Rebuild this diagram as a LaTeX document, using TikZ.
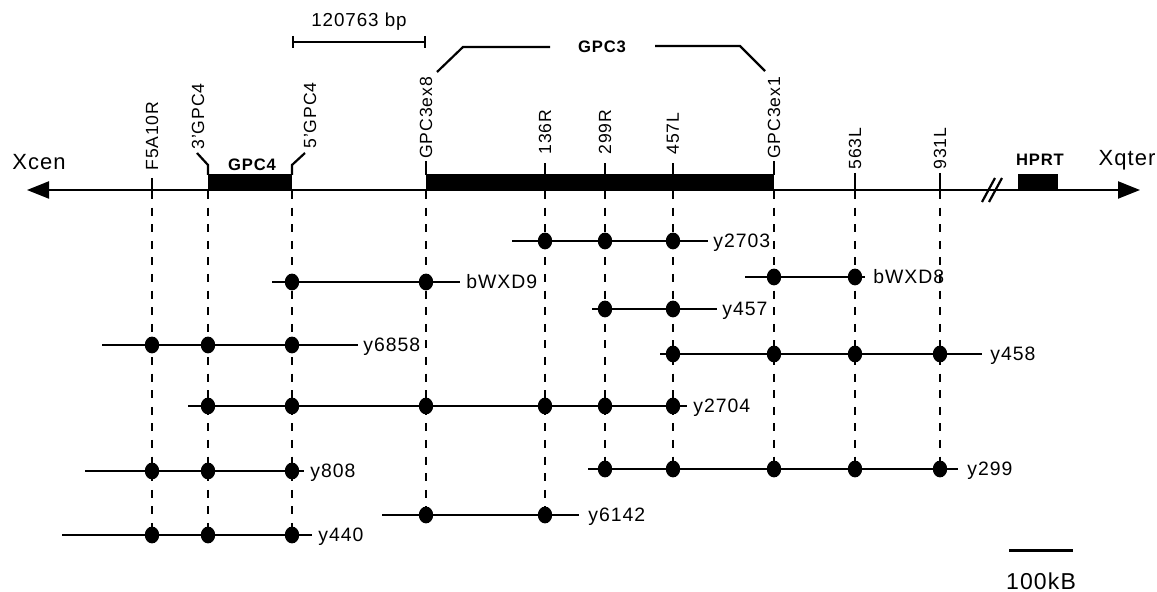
\documentclass[tikz,border=0pt]{standalone}
\usepackage{fontspec}
\setmainfont[LetterSpace=5]{Liberation Sans}
\usetikzlibrary{shapes.geometric,arrows.meta}
\newcommand{\clonerow}[6]{%
  \coordinate (#1-s) at (#3,#2);
  \coordinate (#1-e) at (#4,#2);
  \draw[clone] (#1-s) -- (#1-e);
  \foreach \d in {#6} { \node[dot] (#1-\d) at (\d,#2) {}; }
  \node[clonelab] (#1-lab) at (#5,{#2+6.5}) {#1};
}
\begin{document}
\begin{tikzpicture}[x=0.5pt,y=-0.5pt]
\tikzset{
 axisline/.style={line width=1.1pt},
 clone/.style={line width=1.1pt},
 guide/.style={line width=1.4pt, dash pattern=on 4pt off 4.3pt},
 dot/.style={ellipse, fill=black, inner sep=0, minimum width=7.2pt, minimum height=8.4pt},
 marklab/.style={rotate=90, anchor=west, inner sep=0, font=\fontsize{8.8}{10}\selectfont},
 clonelab/.style={anchor=base west, inner sep=0, font=\fontsize{9.7}{11}\selectfont},
 genelab/.style={inner sep=0, anchor=base, font=\fontsize{8.3}{9.6}\selectfont\bfseries},
 genebox/.style={fill=black, draw=none, inner sep=0, anchor=south west},
 tick/.style={line width=1.1pt},
 bigtxt/.style={inner sep=0, anchor=base, font=\fontsize{11}{12}\selectfont},
}
\useasboundingbox (0,0) rectangle (1157,592);

% marker positions on the axis
\foreach \n/\x in {f5/152, g4a/208, g4b/292, ex8/426, r136/545, r299/605, l457/673, ex1/774, l563/855, l931/940}
  \coordinate (\n) at (\x,190);

% dashed guide lines
\foreach \x/\yb in {152/535, 208/535, 292/535, 426/515, 545/515, 605/469, 673/469, 774/469, 855/469, 940/469}
  \draw[guide] (\x,191) -- (\x,\yb);

% axis
\coordinate (cen) at (27,190);
\coordinate (qter) at (1140,190);
\draw[axisline, {Triangle[length=11pt,width=8.5pt]}-{Triangle[length=11pt,width=8.5pt]}] (cen) -- (qter);

% genes
\node[genebox, minimum width=42pt, minimum height=8.5pt] (gpc4) at (208,191) {};
\node[genebox, minimum width=174pt, minimum height=8pt] (gpc3) at (426,190.5) {};
\node[genebox, minimum width=20pt, minimum height=8pt] (hprt) at (1018,190) {};
\node[genelab] at (252,171) {GPC4};
\node[genelab] at (1040,166) {HPRT};

% break marks
\draw[tick] (982,202) -- (995,178);
\draw[tick] (989,202) -- (1002,178);

% ticks and marker labels
\draw[tick] (152,178) -- (152,199);
\node[marklab] (lf5) at (152,171) {F5A10R};
\draw[tick] (208,175) -- (208,165) -- (197,153);
\node[marklab] (lg4a) at (198,150) {3'GPC4};
\draw[tick] (292,175) -- (292,165) -- (305,153);
\node[marklab] (lg4b) at (310,149) {5'GPC4};
\draw[tick] (426,175) -- (426,161);
\node[marklab] (lex8) at (426,159) {GPC3ex8};
\draw[tick] (545,175) -- (545,163);
\node[marklab] (lr136) at (545,155) {136R};
\draw[tick] (605,175) -- (605,163);
\node[marklab] (lr299) at (605,155) {299R};
\draw[tick] (673,175) -- (673,163);
\node[marklab] (ll457) at (673,155) {457L};
\draw[tick] (774,175) -- (774,161);
\node[marklab] (lex1) at (774,159) {GPC3ex1};
\draw[tick] (855,173) -- (855,199);
\node[marklab] (ll563) at (855,170) {563L};
\draw[tick] (940,173) -- (940,199);
\node[marklab] (ll931) at (940,170) {931L};

% GPC3 bracket
\node[genelab] (gpc3lab) at (602,53) {GPC3};
\draw[tick] (437,72) -- (463,47) -- (550,47);
\draw[tick] (655,46) -- (740,46) -- (765,71);

% 120763 bp scale
\coordinate (bp1) at (293,42);
\coordinate (bp2) at (425,42);
\draw[tick] (bp1) -- (bp2);
\draw[tick] (293,36) -- (293,48);
\draw[tick] (425,36) -- (425,48);
\node[inner sep=0, anchor=base, font=\fontsize{9.4}{11}\selectfont] (bplab) at (359,27) {120763 bp};

% ends
\node[bigtxt] (xcen) at (39,170) {Xcen};
\node[bigtxt] (xqter) at (1127,166) {Xqter};

% clones
\clonerow{y2703}{241}{512}{708}{713}{545,605,673}
\clonerow{bWXD9}{282}{272}{460}{466}{292,426}
\clonerow{bWXD8}{277}{745}{865}{873}{774,855}
\clonerow{y457}{309}{592}{717}{722}{605,673}
\clonerow{y6858}{345}{102}{358}{363}{152,208,292}
\clonerow{y458}{354}{660}{982}{990}{673,774,855,940}
\clonerow{y2704}{406}{188}{687}{693}{208,292,426,545,605,673}
\clonerow{y808}{471}{85}{304}{310}{152,208,292}
\clonerow{y299}{469}{588}{958}{967}{605,673,774,855,940}
\clonerow{y6142}{515}{382}{579}{588}{426,545}
\clonerow{y440}{535}{62}{312}{318}{152,208,292}

% 100kB scale bar
\coordinate (sb1) at (1009,551);
\coordinate (sb2) at (1073,551);
\draw[line width=1.5pt] (sb1) -- (sb2);
\node[inner sep=0, anchor=base, font=\fontsize{11.5}{13}\selectfont] (kb) at (1041,590) {100kB};
\end{tikzpicture}
\end{document}
